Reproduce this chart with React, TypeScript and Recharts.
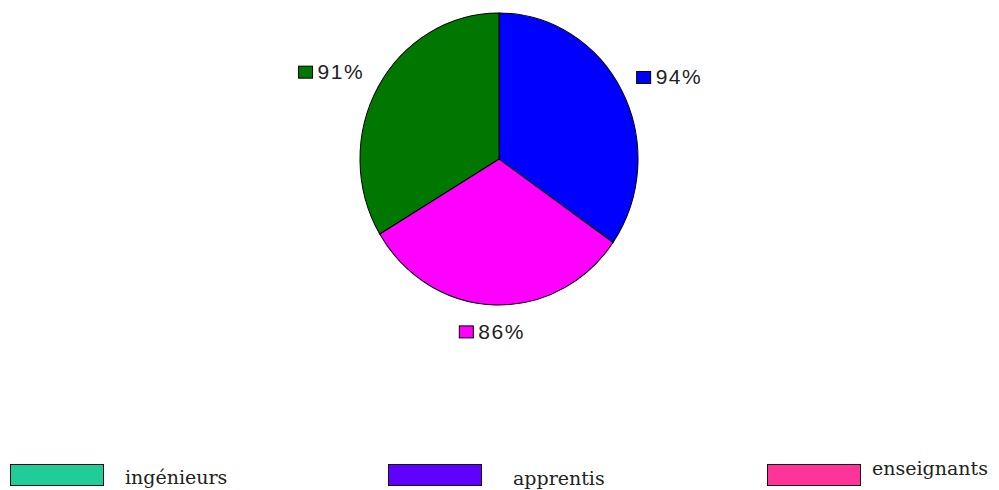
import React from "react";
import { PieChart, Pie, Cell, Legend, Sector } from "recharts";

// slices, clockwise from 12 o'clock
const CATEGORIES = ["ingénieurs", "apprentis", "enseignants"];
const VALUES = [94, 86, 91];
const SLICE_COLORS = ["#0000FF", "#FF00FF", "#007800"];
// the legend swatches in the original don't match the slice colours
const LEGEND_COLORS = ["#1FCC9A", "#6000FF", "#FF3399"];

const W = 999;
const H = 490;
const CX = 499;
const CY = 159;
const RX = 139;
const RY = 146;
const RADIAN = Math.PI / 180;

// legend layout (relative to the legend box at top = 450)
const LEGEND_X = [10, 388, 767];
const LEGEND_TEXT_X = [125, 513, 872];
const LEGEND_TEXT_Y = [34, 35, 25];

const data = CATEGORIES.map((name, i) => ({ name, value: VALUES[i] }));

// the pie in the picture is a bit taller than it is wide
function EllipseSector(props: any) {
  const k = RY / RX;
  return (
    <g transform={`translate(${props.cx} ${props.cy}) scale(1 ${k}) translate(${-props.cx} ${-props.cy})`}>
      <Sector {...props} />
    </g>
  );
}

function renderLabel(props: any) {
  const { cx, cy, midAngle, value, index } = props;
  const cos = Math.cos(midAngle * RADIAN);
  const sin = Math.sin(midAngle * RADIAN);
  const lx = cx + (RX + 20 + 33.5) * cos;
  const ly = cy - (RY + 20 + 8) * sin - 1;
  return (
    <g>
      <rect x={lx - 33} y={ly - 6} width={14} height={12} fill={SLICE_COLORS[index]} stroke="#000" strokeWidth={1} />
      <text
        x={lx - 14}
        y={ly + 7}
        fill="#222"
        fontSize={21}
        letterSpacing={1.5}
        fontFamily="'Liberation Sans', Arial, sans-serif"
      >
        {value}%
      </text>
    </g>
  );
}

function LegendContent() {
  return (
    <svg width={W} height={40} style={{ display: "block" }}>
      {CATEGORIES.map((name, i) => (
        <g key={name}>
          <rect x={LEGEND_X[i] + 0.5} y={14.5} width={93} height={21} fill={LEGEND_COLORS[i]} stroke="#111" strokeWidth={1} />
          <text
            x={LEGEND_TEXT_X[i]}
            y={LEGEND_TEXT_Y[i]}
            fill="#222"
            fontSize={19}
            fontFamily="'DejaVu Serif', serif"
          >
            {name}
          </text>
        </g>
      ))}
    </svg>
  );
}

export default function App() {
  const pieProps: any = {
    shape: EllipseSector,
    inactiveShape: EllipseSector,
    activeShape: EllipseSector,
  };
  return (
    <div style={{ width: W, height: H, background: "#fff" }}>
      <style>{"body{margin:0}"}</style>
      <PieChart width={W} height={H} margin={{ top: 0, right: 0, bottom: 0, left: 0 }}>
        <Pie
          data={data}
          dataKey="value"
          nameKey="name"
          cx={CX}
          cy={CY}
          outerRadius={RX}
          startAngle={90}
          endAngle={-270}
          stroke="#000"
          strokeWidth={1}
          label={renderLabel}
          labelLine={false}
          isAnimationActive={false}
          {...pieProps}
        >
          {data.map((d, i) => (
            <Cell key={d.name} fill={SLICE_COLORS[i]} />
          ))}
        </Pie>
        <Legend
          content={() => <LegendContent />}
          wrapperStyle={{ position: "absolute", left: 0, top: 450, width: W, height: 40 }}
        />
      </PieChart>
    </div>
  );
}
